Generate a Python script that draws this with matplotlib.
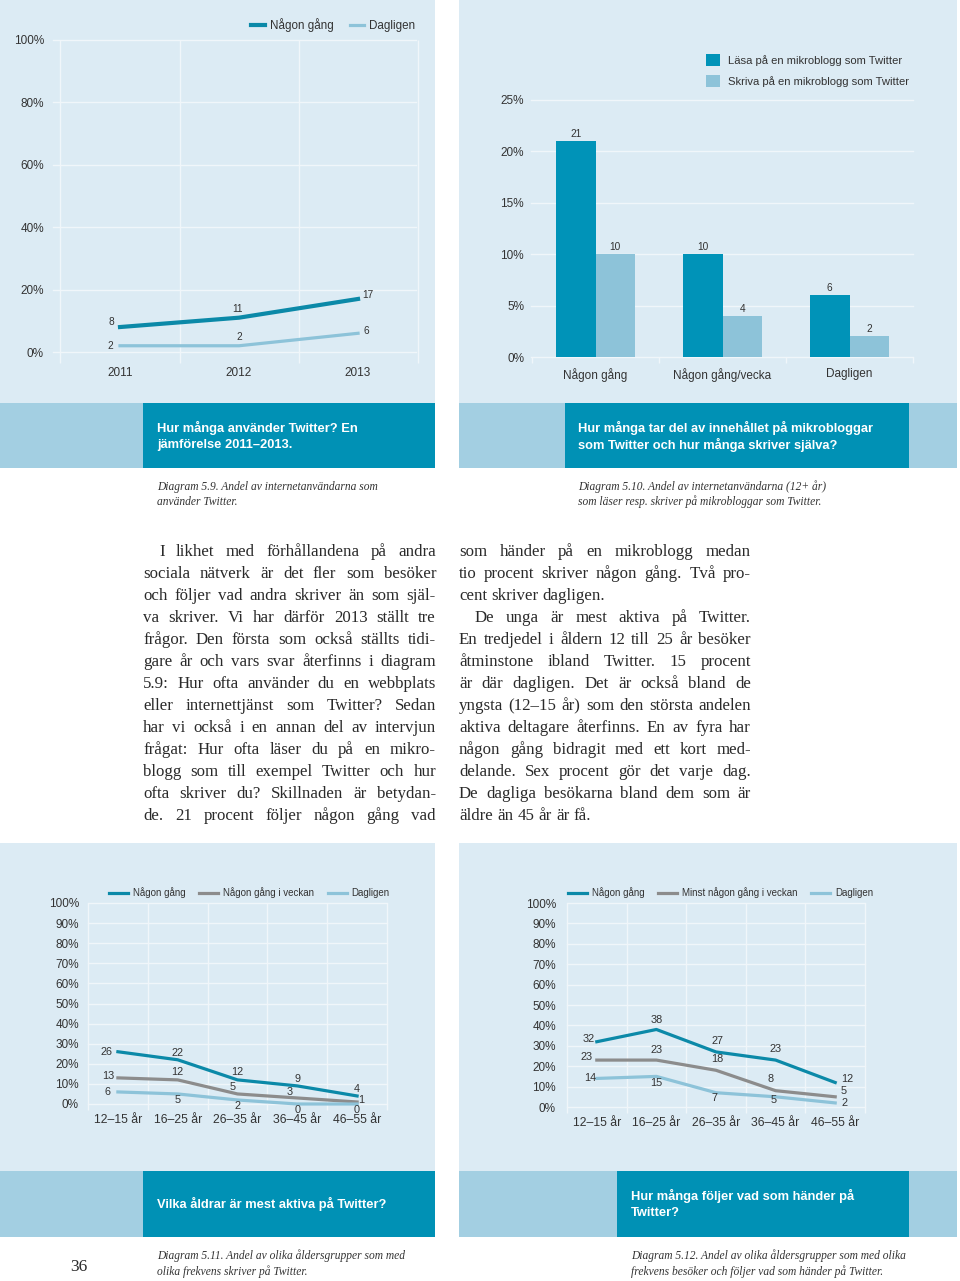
import matplotlib.pyplot as plt
from matplotlib.patches import Rectangle
import numpy as np

# Diagram 5.9 - andel som använder Twitter
years = ['2011', '2012', '2013']
anv_nagon = [8, 11, 17]
anv_dagl = [2, 2, 6]

# Diagram 5.10 - läsa / skriva på mikroblogg
freq_cats = ['Någon gång', 'Någon gång/vecka', 'Dagligen']
lasa = [21, 10, 6]
skriva = [10, 4, 2]

# Diagram 5.11 - skriver på Twitter per ålder
ages = ['12–15 år', '16–25 år', '26–35 år', '36–45 år', '46–55 år']
skr_nagon = [26, 22, 12, 9, 4]
skr_vecka = [13, 12, 5, 3, 1]
skr_dagl = [6, 5, 2, 0, 0]

# Diagram 5.12 - besöker/följer per ålder
fol_nagon = [32, 38, 27, 23, 12]
fol_vecka = [23, 23, 18, 8, 5]
fol_dagl = [14, 15, 7, 5, 2]

# texter
titles = [
    ['Hur många använder Twitter? En', 'jämförelse 2011–2013.'],
    ['Hur många tar del av innehållet på mikrobloggar', 'som Twitter och hur många skriver själva?'],
    ['Vilka åldrar är mest aktiva på Twitter?'],
    ['Hur många följer vad som händer på', 'Twitter?'],
]
captions = [
    ['Diagram 5.9. Andel av internetanvändarna som', 'använder Twitter.'],
    ['Diagram 5.10. Andel av internetanvändarna (12+ år)', 'som läser resp. skriver på mikrobloggar som Twitter.'],
    ['Diagram 5.11. Andel av olika åldersgrupper som med', 'olika frekvens skriver på Twitter.'],
    ['Diagram 5.12. Andel av olika åldersgrupper som med olika', 'frekvens besöker och följer vad som händer på Twitter.'],
]
body_left = [
    'I likhet med förhållandena på andra',
    'sociala nätverk är det fler som besöker',
    'och följer vad andra skriver än som själ-',
    'va skriver. Vi har därför 2013 ställt tre',
    'frågor. Den första som också ställts tidi-',
    'gare år och vars svar återfinns i diagram',
    '5.9: Hur ofta använder du en webbplats',
    'eller internettjänst som Twitter? Sedan',
    'har vi också i en annan del av intervjun',
    'frågat: Hur ofta läser du på en mikro-',
    'blogg som till exempel Twitter och hur',
    'ofta skriver du? Skillnaden är betydan-',
    'de. 21 procent följer någon gång vad',
]
body_right = [
    'som händer på en mikroblogg medan',
    'tio procent skriver någon gång. Två pro-',
    'cent skriver dagligen.',
    'De unga är mest aktiva på Twitter.',
    'En tredjedel i åldern 12 till 25 år besöker',
    'åtminstone ibland Twitter. 15 procent',
    'är där dagligen. Det är också bland de',
    'yngsta (12–15 år) som den största andelen',
    'aktiva deltagare återfinns. En av fyra har',
    'någon gång bidragit med ett kort med-',
    'delande. Sex procent gör det varje dag.',
    'De dagliga besökarna bland dem som är',
    'äldre än 45 år är få.',
]

PANEL = '#dcebf4'
BAND_L = '#a3cfe2'
BAND_D = '#0091b5'
DARK = '#0b89a8'
BAR_D = '#0093b8'
LIGHT = '#8dc3d9'
GREY = '#8c8c8c'
GRID = '#f0f6fa'
TXT = '#2a2a2a'
SANS = 'Liberation Sans'
SERIF = 'Liberation Serif'

fig = plt.figure(figsize=(9.6, 12.81), dpi=100)
bg = fig.add_axes([0, 0, 1, 1])
bg.set_xlim(0, 960)
bg.set_ylim(1281, 0)
bg.axis('off')


def box(x0, y0, x1, y1, color):
    bg.add_patch(Rectangle((x0, y0), x1 - x0, y1 - y0, color=color, lw=0))


def px_axes(x0, y0, x1, y1):
    ax = fig.add_axes([x0 / 960, 1 - y1 / 1281, (x1 - x0) / 960, (y1 - y0) / 1281])
    ax.set_facecolor('none')
    for s in ax.spines.values():
        s.set_visible(False)
    return ax


# bakgrundsytor
box(0, 0, 435, 403, PANEL)
box(459, 0, 957, 403, PANEL)
box(0, 403, 435, 468, BAND_L)
box(143, 403, 435, 468, BAND_D)
box(459, 403, 957, 468, BAND_L)
box(565, 403, 909, 468, BAND_D)
box(0, 843, 435, 1171, PANEL)
box(459, 843, 957, 1171, PANEL)
box(0, 1171, 435, 1237, BAND_L)
box(143, 1171, 435, 1237, BAND_D)
box(459, 1171, 957, 1237, BAND_L)
box(617, 1171, 909, 1237, BAND_D)

# rubriker i banden
title_pos = [(157, [428, 445]), (578, [428, 445]), (157, [1204]), (631, [1196, 1213])]
for (tx, ys), lines in zip(title_pos, titles):
    for ty, line in zip(ys, lines):
        bg.text(tx, ty, line, color='white', fontsize=9.3, fontweight='bold',
                family=SANS, va='center', ha='left')

cap_pos = [(157, [487, 502]), (578, [487, 502]), (157, [1256, 1272]), (631, [1256, 1272])]
for (tx, ys), lines in zip(cap_pos, captions):
    for ty, line in zip(ys, lines):
        bg.text(tx, ty, line, color='#333333', fontsize=8.3, style='italic',
                family=SERIF, va='center', ha='left')

bg.text(79, 1267, '36', fontsize=12.5, family=SERIF, color=TXT, ha='center', va='center')


def style_axes(ax, fs=8.5, ypad=6, xpad=7):
    ax.tick_params(axis='both', length=0, labelsize=fs, colors='#333333')
    ax.tick_params(axis='y', pad=ypad)
    ax.tick_params(axis='x', pad=xpad)
    for lab in ax.get_xticklabels() + ax.get_yticklabels():
        lab.set_family(SANS)
    ax.yaxis.grid(True, color=GRID, lw=1)
    for gl in ax.get_ygridlines():
        gl.set_clip_on(False)
    ax.set_axisbelow(True)


def labels(ax, xs, vals, offs, fs=7):
    for x, v, (dx, dy) in zip(xs, vals, offs):
        ax.annotate(str(v), (x, v), xytext=(dx, dy), textcoords='offset pixels',
                    ha='center', va='center', fontsize=fs, family=SANS, color='#333333')


# ---- Diagram 5.9 ----
ax1 = px_axes(53, 40, 416, 352)
x3 = np.arange(3)
ax1.vlines([-0.5, 0.5, 1.5, 2.5], -3.5, 100, color=GRID, lw=1, clip_on=False, zorder=0)
ax1.plot(x3, anv_nagon, color=DARK, lw=3, label='Någon gång', clip_on=False)
ax1.plot(x3, anv_dagl, color=LIGHT, lw=2.3, label='Dagligen', clip_on=False)
ax1.set_xlim(-0.563, 2.487)
ax1.set_ylim(0, 100)
ax1.set_yticks(range(0, 101, 20))
ax1.set_yticklabels([f'{v}%' for v in range(0, 101, 20)])
ax1.set_xticks(x3)
ax1.set_xticklabels(years)
style_axes(ax1, fs=8.5, ypad=6.5, xpad=10.5)
labels(ax1, x3, anv_nagon, [(-9, 5), (-2, 9), (10, 4)], fs=7.3)
labels(ax1, x3, anv_dagl, [(-10, 0), (0, 9), (8, 2)], fs=7.3)
ax1.legend(loc='center left', bbox_to_anchor=(251, 25), bbox_transform=bg.transData,
           ncol=2, frameon=False, borderpad=0, borderaxespad=0, handlelength=1.2,
           handletextpad=0.45, columnspacing=1.35, prop={'family': SANS, 'size': 8.4},
           labelcolor='#333333')

# ---- Diagram 5.10 ----
ax2 = px_axes(531, 100, 913, 357)
w = 0.3125
b1 = ax2.bar(x3 - w / 2, lasa, w, color=BAR_D, label='Läsa på en mikroblogg som Twitter')
b2 = ax2.bar(x3 + w / 2, skriva, w, color=LIGHT, label='Skriva på en mikroblogg som Twitter')
ax2.set_xlim(-0.508, 2.477)
ax2.set_ylim(0, 25)
ax2.set_yticks(range(0, 26, 5))
ax2.set_yticklabels([f'{v}%' for v in range(0, 26, 5)])
ax2.set_xticks(x3)
ax2.set_xticklabels(freq_cats)
style_axes(ax2, fs=8.5, ypad=5, xpad=8)
ax2.set_xticks([-0.5, 0.5, 1.5, 2.5], minor=True)
ax2.tick_params(axis='x', which='minor', length=4, color=GRID, width=1)
for bars in (b1, b2):
    ax2.bar_label(bars, padding=1.5, fontsize=7.3, family=SANS, color='#333333')
ax2.legend(loc='upper left', bbox_to_anchor=(706, 54), bbox_transform=bg.transData,
           ncol=1, frameon=False, borderpad=0, borderaxespad=0, handlelength=1.25,
           handleheight=1.25, handletextpad=0.75, labelspacing=0.85,
           prop={'family': SANS, 'size': 8.1}, labelcolor='#333333')


# ---- Diagram 5.11 och 5.12 ----
def age_chart(box_px, series, names, offsets, leg_x, ypad):
    ax = px_axes(*box_px)
    x5 = np.arange(5)
    ax.vlines(np.arange(-0.5, 5), -3, 100, color=GRID, lw=1, clip_on=False, zorder=0)
    for vals, name, col, offs in zip(series, names, [DARK, GREY, LIGHT], offsets):
        ax.plot(x5, vals, color=col, lw=2.3, label=name, clip_on=False)
        labels(ax, x5, vals, offs, fs=7.8)
    ax.set_xlim(-0.5, 4.5)
    ax.set_ylim(0, 100)
    ax.set_yticks(range(0, 101, 10))
    ax.set_yticklabels([f'{v}%' for v in range(0, 101, 10)])
    ax.set_xticks(x5)
    ax.set_xticklabels(ages)
    style_axes(ax, fs=8.5, ypad=ypad, xpad=7)
    for lab in ax.get_xticklabels():
        lab.set_fontsize(8.8)
    ax.legend(loc='center left', bbox_to_anchor=(leg_x, 893), bbox_transform=bg.transData,
              ncol=3, frameon=False, borderpad=0, borderaxespad=0, handlelength=1.96,
              handletextpad=0.5, columnspacing=1.4, prop={'family': SANS, 'size': 7},
              labelcolor='#333333')
    return ax


age_chart((88, 903, 387, 1104), [skr_nagon, skr_vecka, skr_dagl],
          ['Någon gång', 'Någon gång i veckan', 'Dagligen'],
          [[(-11, 0), (0, 7), (0, 8), (0, 7), (0, 7)],
           [(-10, 2), (0, 8), (-5, 7), (-8, 6), (4, 2)],
           [(-10, 0), (0, -6), (0, -6), (0, -6), (0, -6)]],
          109, 6.5)
age_chart((567, 903, 865, 1107), [fol_nagon, fol_vecka, fol_dagl],
          ['Någon gång', 'Minst någon gång i veckan', 'Dagligen'],
          [[(-8, 3), (0, 9), (2, 11), (0, 11), (12, 4)],
           [(-10, 3), (0, 10), (1, 11), (-5, 12), (8, 6)],
           [(-7, 0), (0, -7), (-1, -5), (-2, -3), (9, 0)]],
          568, 8)

# ---- brödtext, marginaljusterad ----
renderer = fig.canvas.get_renderer()


def justify(lines, x0, x1, last_lines, indents):
    for i, line in enumerate(lines):
        base = 556 + 22 * i
        start = x0 + (16 if i in indents else 0)
        words = line.split(' ')
        objs = [bg.text(start, base, wd, fontsize=12.2, family=SERIF, color=TXT,
                        va='baseline', ha='left') for wd in words]
        widths = [t.get_window_extent(renderer).width for t in objs]
        space = objs[0].get_fontsize() * 100 / 72 * 0.25
        if i in last_lines or len(words) == 1:
            gap = space
        else:
            gap = max((x1 - start - sum(widths)) / (len(words) - 1), 2)
        xpos = start
        for t, wd in zip(objs, widths):
            t.set_x(xpos)
            xpos += wd + gap


justify(body_left, 143, 436, [], [0])
justify(body_right, 459, 751, [2, 12], [3])

fig.savefig('out.png', dpi=100)
